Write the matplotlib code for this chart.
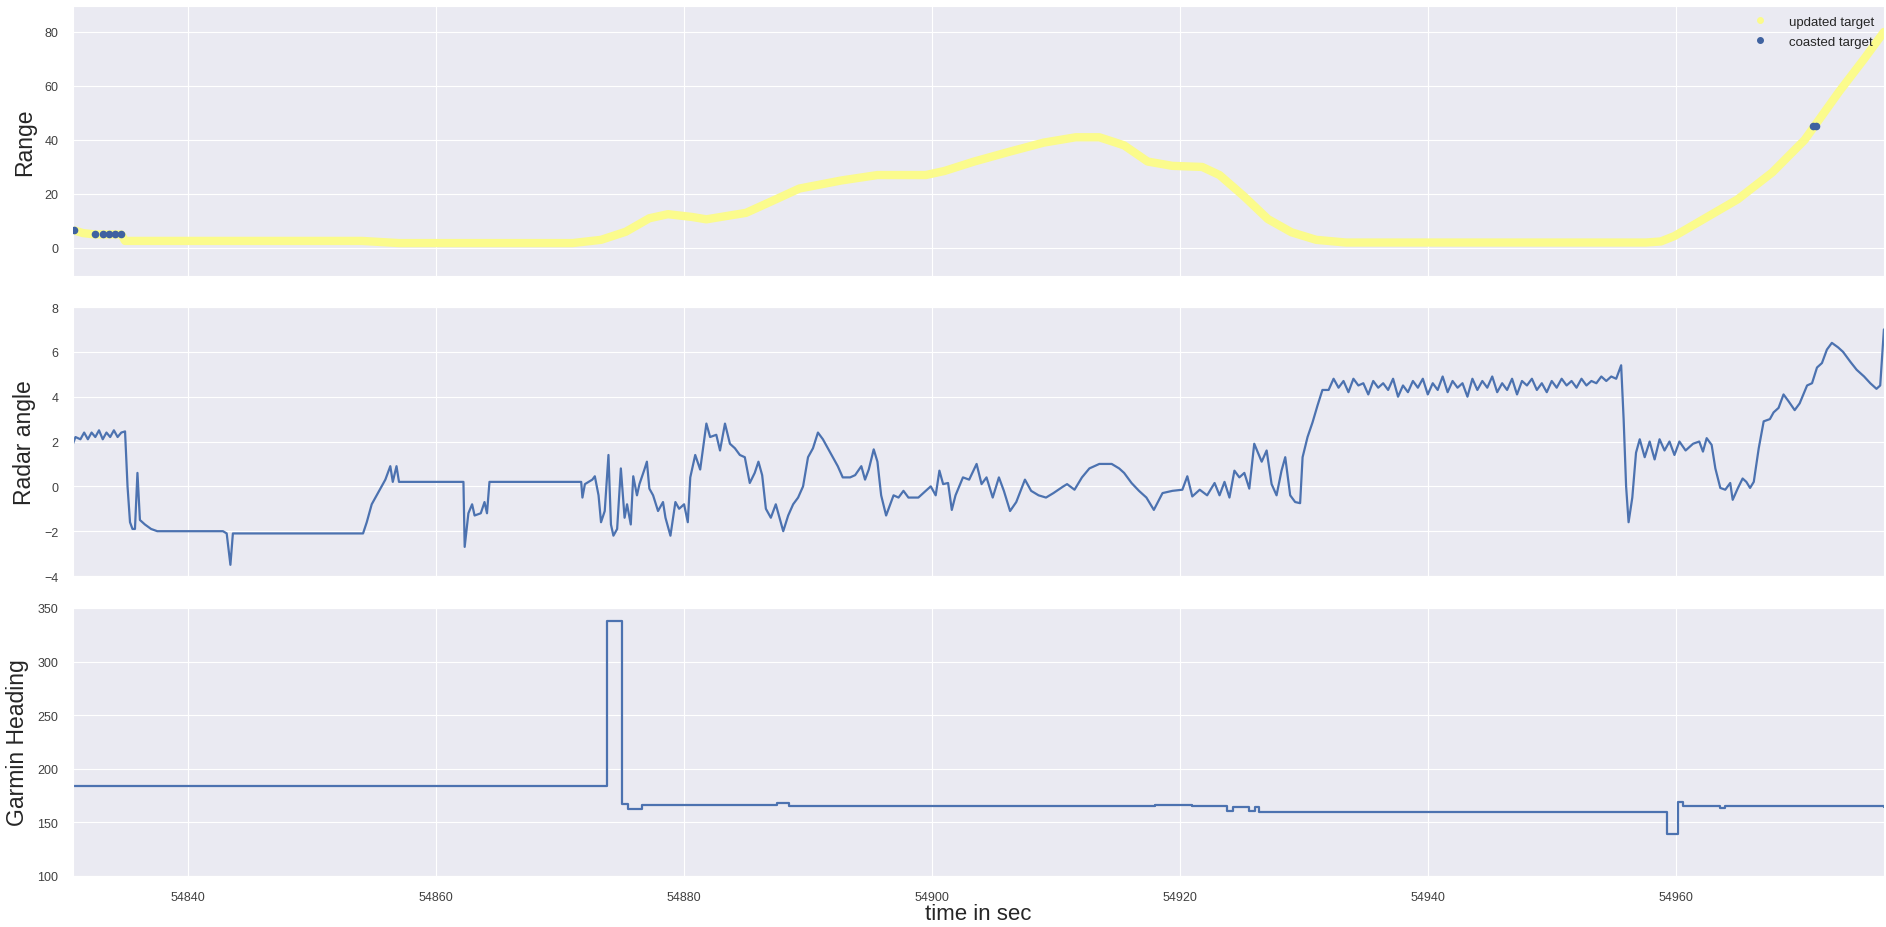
import matplotlib
matplotlib.use('Agg')
import matplotlib.pyplot as plt
import seaborn as sns
from matplotlib.lines import Line2D

sns.set_style('darkgrid')
plt.rcParams['font.family'] = ['Liberation Sans', 'DejaVu Sans']

# Range of the tracked target (updated points)
upd_t = [54830.8, 54831.5, 54832.5, 54834.6, 54834.9, 54854.0, 54857.0, 54871.0,
         54873.3, 54875.3, 54877.2, 54878.7, 54880.6, 54881.8, 54885.0, 54887.4,
         54889.3, 54892.7, 54895.6, 54899.5, 54901.0, 54903.4, 54906.3, 54909.0,
         54911.6, 54913.5, 54915.5, 54917.4, 54919.4, 54921.8, 54923.2, 54925.2,
         54927.1, 54929.0, 54931.0, 54933.4, 54957.6, 54958.8, 54959.9, 54962.0,
         54965.0, 54967.8, 54970.4, 54973.2, 54975.2, 54976.8]
upd_r = [6.5, 5.5, 5.0, 5.0, 2.6, 2.6, 1.8, 1.8,
         3.0, 6.0, 11.0, 12.5, 11.5, 10.6, 13.0, 18.0,
         22.0, 25.0, 27.0, 27.0, 28.5, 32.0, 35.7, 39.0,
         41.0, 41.0, 38.0, 32.0, 30.4, 30.0, 27.0, 19.0,
         10.7, 5.8, 3.0, 2.0, 2.0, 2.4, 4.4, 10.0,
         18.0, 28.0, 40.0, 58.0, 70.0, 80.0]

# coasted target points
cst_t = [54830.8, 54832.5, 54833.1, 54833.6, 54834.1, 54834.6, 54971.1, 54971.3]
cst_r = [6.7, 5.2, 5.2, 5.2, 5.2, 5.2, 45.0, 45.0]

# Radar angle
rad_t = [54830.7, 54830.9, 54831.3, 54831.6, 54831.9, 54832.2, 54832.5, 54832.8,
         54833.1, 54833.4, 54833.7, 54834.0, 54834.3, 54834.6, 54834.9, 54835.1,
         54835.3, 54835.5, 54835.7, 54835.9, 54836.1, 54836.5, 54837.0, 54837.5,
         54842.8, 54843.1, 54843.4, 54843.6, 54854.1, 54854.4, 54854.8, 54855.3,
         54855.9, 54856.3, 54856.5, 54856.8, 54857.0, 54862.2, 54862.3, 54862.6,
         54862.9, 54863.1, 54863.6, 54863.9, 54864.1, 54864.3, 54871.7, 54871.8,
         54872.0, 54872.6, 54872.8, 54873.1, 54873.3, 54873.6, 54873.9, 54874.1,
         54874.3, 54874.6, 54874.9, 54875.2, 54875.4, 54875.7, 54875.9, 54876.2,
         54876.4, 54876.8, 54877.0, 54877.2, 54877.5, 54877.9, 54878.3, 54878.5,
         54878.9, 54879.3, 54879.6, 54880.0, 54880.3, 54880.5, 54880.9, 54881.3,
         54881.8, 54882.1, 54882.6, 54882.9, 54883.3, 54883.7, 54884.1, 54884.5,
         54884.9, 54885.3, 54885.7, 54886.0, 54886.3, 54886.6, 54887.0, 54887.4,
         54887.7, 54888.0, 54888.4, 54888.8, 54889.2, 54889.6, 54890.0, 54890.4,
         54890.8, 54891.2, 54891.6, 54892.0, 54892.4, 54892.8, 54893.4, 54893.8,
         54894.3, 54894.6, 54894.9, 54895.3, 54895.6, 54895.9, 54896.3, 54896.9,
         54897.3, 54897.7, 54898.1, 54898.9, 54899.5, 54899.9, 54900.3, 54900.6,
         54900.9, 54901.3, 54901.6, 54901.9, 54902.5, 54903.0, 54903.6, 54904.0,
         54904.4, 54904.9, 54905.4, 54905.8, 54906.3, 54906.8, 54907.5, 54908.0,
         54908.6, 54909.2, 54909.8, 54910.6, 54910.9, 54911.5, 54912.1, 54912.7,
         54913.5, 54914.5, 54915.1, 54915.5, 54916.1, 54916.7, 54917.3, 54917.9,
         54918.6, 54919.4, 54920.2, 54920.6, 54921.0, 54921.6, 54922.2, 54922.8,
         54923.2, 54923.6, 54924.0, 54924.4, 54924.8, 54925.2, 54925.6, 54926.0,
         54926.6, 54927.0, 54927.4, 54927.8, 54928.2, 54928.5, 54928.9, 54929.3,
         54929.7, 54929.9, 54930.3, 54930.7, 54931.1, 54931.5, 54932.0, 54932.4,
         54932.8, 54933.2, 54933.6, 54934.0, 54934.4, 54934.8, 54935.2, 54935.6,
         54936.0, 54936.4, 54936.8, 54937.2, 54937.6, 54938.0, 54938.4, 54938.8,
         54939.2, 54939.6, 54940.0, 54940.4, 54940.8, 54941.2, 54941.6, 54942.0,
         54942.4, 54942.8, 54943.2, 54943.6, 54944.0, 54944.4, 54944.8, 54945.2,
         54945.6, 54946.0, 54946.4, 54946.8, 54947.2, 54947.6, 54948.0, 54948.4,
         54948.8, 54949.2, 54949.6, 54950.0, 54950.4, 54950.8, 54951.2, 54951.6,
         54952.0, 54952.4, 54952.8, 54953.2, 54953.6, 54954.0, 54954.4, 54954.8,
         54955.2, 54955.6, 54955.8, 54956.0, 54956.2, 54956.5, 54956.8, 54957.1,
         54957.5, 54957.9, 54958.3, 54958.7, 54959.1, 54959.5, 54959.9, 54960.3,
         54960.8, 54961.4, 54961.9, 54962.2, 54962.5, 54962.9, 54963.2, 54963.6,
         54964.0, 54964.4, 54964.6, 54965.0, 54965.4, 54965.7, 54966.0, 54966.3,
         54966.7, 54967.1, 54967.6, 54967.9, 54968.3, 54968.7, 54969.1, 54969.6,
         54970.0, 54970.6, 54971.0, 54971.4, 54971.8, 54972.2, 54972.6, 54973.1,
         54973.5, 54974.1, 54974.6, 54975.2, 54975.7, 54976.2, 54976.5, 54976.8]
rad_v = [1.9, 2.2, 2.1, 2.4, 2.1, 2.4, 2.2, 2.5,
         2.1, 2.4, 2.2, 2.5, 2.2, 2.4, 2.45, 0.0,
         -1.6, -1.9, -1.9, 0.6, -1.5, -1.7, -1.9, -2.0,
         -2.0, -2.1, -3.5, -2.1, -2.1, -1.6, -0.8, -0.3,
         0.3, 0.9, 0.2, 0.9, 0.2, 0.2, -2.7, -1.2,
         -0.8, -1.3, -1.2, -0.7, -1.2, 0.2, 0.2, -0.5,
         0.1, 0.3, 0.45, -0.4, -1.6, -1.1, 1.4, -1.7,
         -2.2, -1.9, 0.8, -1.4, -0.8, -1.7, 0.45, -0.4,
         0.1, 0.75, 1.1, -0.1, -0.4, -1.1, -0.7, -1.4,
         -2.2, -0.7, -1.0, -0.8, -1.6, 0.4, 1.4, 0.75,
         2.8, 2.2, 2.3, 1.6, 2.8, 1.9, 1.7, 1.4,
         1.3, 0.15, 0.6, 1.1, 0.5, -1.0, -1.4, -0.8,
         -1.4, -2.0, -1.3, -0.8, -0.5, 0.0, 1.3, 1.7,
         2.4, 2.1, 1.7, 1.3, 0.9, 0.4, 0.4, 0.5,
         0.9, 0.3, 0.75, 1.65, 1.1, -0.4, -1.3, -0.4,
         -0.5, -0.2, -0.5, -0.5, -0.2, 0.0, -0.4, 0.7,
         0.1, 0.15, -1.05, -0.4, 0.4, 0.3, 1.0, 0.1,
         0.4, -0.5, 0.4, -0.2, -1.1, -0.7, 0.3, -0.2,
         -0.4, -0.5, -0.3, 0.0, 0.1, -0.15, 0.4, 0.8,
         1.0, 1.0, 0.8, 0.6, 0.15, -0.2, -0.5, -1.05,
         -0.3, -0.2, -0.15, 0.45, -0.45, -0.15, -0.4, 0.15,
         -0.4, 0.2, -0.5, 0.7, 0.4, 0.6, -0.1, 1.9,
         1.1, 1.6, 0.1, -0.4, 0.7, 1.3, -0.4, -0.7,
         -0.75, 1.3, 2.2, 2.85, 3.6, 4.3, 4.3, 4.8,
         4.4, 4.7, 4.2, 4.8, 4.5, 4.6, 4.1, 4.7,
         4.4, 4.6, 4.3, 4.8, 4.0, 4.5, 4.2, 4.7,
         4.4, 4.8, 4.1, 4.6, 4.3, 4.9, 4.2, 4.7,
         4.4, 4.6, 4.0, 4.8, 4.3, 4.7, 4.4, 4.9,
         4.2, 4.6, 4.3, 4.8, 4.1, 4.7, 4.5, 4.8,
         4.3, 4.6, 4.2, 4.7, 4.4, 4.8, 4.5, 4.7,
         4.4, 4.8, 4.5, 4.7, 4.6, 4.9, 4.7, 4.9,
         4.8, 5.4, 3.0, 0.0, -1.6, -0.5, 1.5, 2.1,
         1.3, 2.0, 1.2, 2.1, 1.6, 2.0, 1.4, 2.0,
         1.6, 1.9, 2.0, 1.55, 2.15, 1.85, 0.8, -0.07,
         -0.15, 0.15, -0.6, -0.1, 0.35, 0.2, -0.07, 0.2,
         1.7, 2.9, 3.0, 3.3, 3.5, 4.1, 3.8, 3.4,
         3.7, 4.5, 4.6, 5.3, 5.5, 6.1, 6.4, 6.2,
         6.0, 5.55, 5.2, 4.9, 4.6, 4.35, 4.5, 7.0]

# Garmin heading (step changes)
hdg_t = [54830.7, 54873.8, 54875.0, 54875.5, 54876.6, 54880.0, 54887.5, 54888.5,
         54890.0, 54905.0, 54918.0, 54921.0, 54923.8, 54924.3, 54925.6, 54926.1,
         54926.4, 54959.3, 54960.2, 54960.6, 54963.6, 54964.0, 54974.5, 54976.8]
hdg_v = [183.5, 338.0, 167.0, 162.0, 166.0, 166.5, 168.0, 165.0,
         165.5, 165.5, 166.5, 165.0, 161.0, 164.0, 160.5, 164.0,
         160.0, 139.0, 169.0, 165.5, 163.5, 165.5, 165.5, 164.0]

xticks = [54840, 54860, 54880, 54900, 54920, 54940, 54960]
xlim = (54830.7, 54976.8)

fig = plt.figure(figsize=(18.86, 9.28), dpi=100)
ax1 = fig.add_axes([0.0387, 0.7015, 0.9602, 0.2909])
ax2 = fig.add_axes([0.0387, 0.3782, 0.9602, 0.2899], sharex=ax1)
ax3 = fig.add_axes([0.0387, 0.0550, 0.9602, 0.2888], sharex=ax1)

yellow = '#fbfb8c'
blue = '#4C72B0'

ax1.plot(upd_t, upd_r, color=yellow, lw=6, solid_capstyle='round', zorder=2)
ax1.scatter(cst_t, cst_r, s=20, color='#3f62a0', zorder=3)
ax1.set_ylim(-10.4, 89.6)
ax1.set_yticks([0, 20, 40, 60, 80])
ax1.set_ylabel('Range', fontsize=16.5, labelpad=6)
handles = [Line2D([], [], ls='', marker='o', ms=4, color=yellow),
           Line2D([], [], ls='', marker='o', ms=4, color='#3f62a0')]
ax1.legend(handles, ['updated target', 'coasted target'], loc='upper right',
           frameon=False, fontsize=9.5, handletextpad=1.2, borderaxespad=0.3,
           labelspacing=0.6)

ax2.plot(rad_t, rad_v, color=blue, lw=1.6)
ax2.set_ylim(-4, 8)
ax2.set_yticks([-4, -2, 0, 2, 4, 6, 8])
ax2.set_ylabel('Radar angle', fontsize=16.5, labelpad=6)

ax3.plot(hdg_t, hdg_v, color=blue, lw=1.6, drawstyle='steps-post')
ax3.set_ylim(100, 350)
ax3.set_yticks([100, 150, 200, 250, 300, 350])
ax3.set_ylabel('Garmin Heading', fontsize=16.5, labelpad=6)
ax3.set_xlabel('time in sec', fontsize=16, labelpad=0)

ax3.set_xlim(*xlim)
ax3.set_xticks(xticks)
ax3.ticklabel_format(axis='x', useOffset=False, style='plain')
for ax in (ax1, ax2, ax3):
    ax.tick_params(labelsize=9, pad=7, colors='.25')
for ax in (ax1, ax2):
    plt.setp(ax.get_xticklabels(), visible=False)

fig.savefig('out.png', dpi=100)
